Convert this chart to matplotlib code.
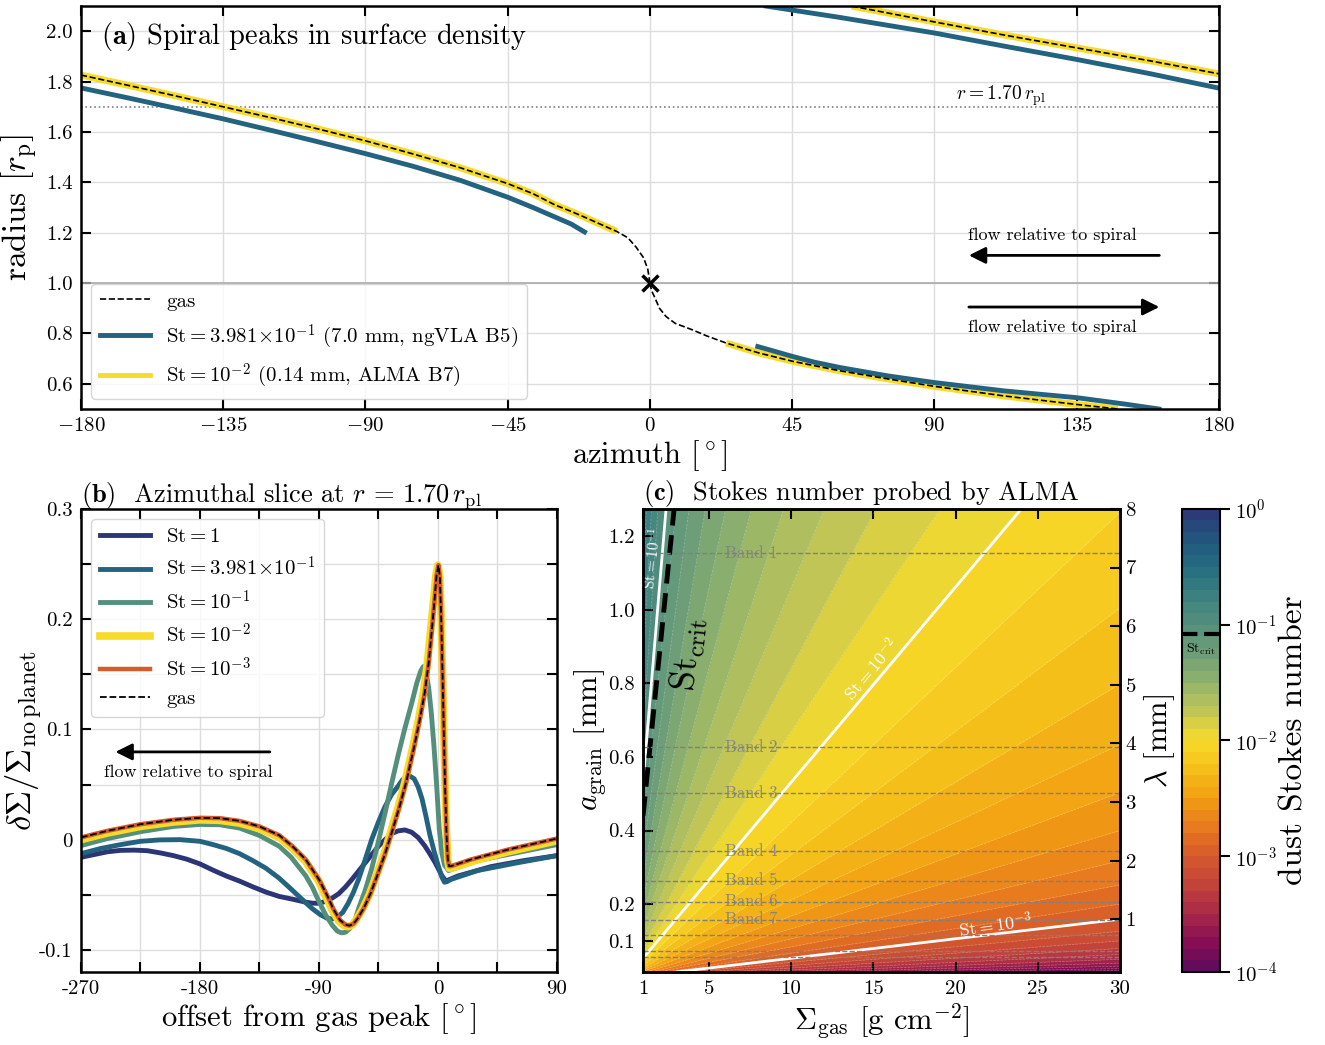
import numpy as np
import matplotlib
matplotlib.use('Agg')
import matplotlib.pyplot as plt
from matplotlib.colors import LinearSegmentedColormap, LogNorm

plt.rcParams['font.family'] = 'serif'
plt.rcParams['font.serif'] = ['cmr10', 'DejaVu Serif']
plt.rcParams['mathtext.fontset'] = 'cm'
plt.rcParams['axes.formatter.use_mathtext'] = True
plt.rcParams['axes.linewidth'] = 1.8

# ---- panel (a): spiral peak positions (azimuth [deg], radius [r_p]) ----
gas_out_phi = [-180, -165, -150, -135, -120, -105, -90, -75, -60, -45, -37, -30, -25, -20, -15, -10.5, -7, -4.4, -2, -0.7, 0]
gas_out_r = [1.826, 1.785, 1.743, 1.70, 1.657, 1.612, 1.565, 1.513, 1.458, 1.395, 1.355, 1.31, 1.285, 1.258, 1.23, 1.205, 1.18, 1.143, 1.10, 1.055, 1.0]
gas_in_phi = [0, 0.5, 1.4, 3, 5.1, 8, 13.5, 18, 24.1, 34.6, 45.3, 60, 75, 90, 112, 135, 148]
gas_in_r = [1.0, 0.97, 0.946, 0.90, 0.867, 0.84, 0.814, 0.79, 0.762, 0.722, 0.689, 0.652, 0.62, 0.59, 0.552, 0.518, 0.5]
gas_wrap_phi = [63.8, 90, 112, 135, 158, 180]
gas_wrap_r = [2.1, 2.037, 1.985, 1.934, 1.883, 1.831]

st2_out_phi = [-180, -165, -150, -135, -120, -105, -90, -75, -60, -45, -37, -30, -25, -20, -15, -10.5]
st2_out_r = [1.826, 1.785, 1.743, 1.70, 1.657, 1.612, 1.565, 1.513, 1.458, 1.395, 1.355, 1.31, 1.285, 1.258, 1.23, 1.205]
st2_in_phi = [24.1, 34.6, 45.3, 60, 75, 90, 112, 135, 148]
st2_in_r = [0.762, 0.722, 0.689, 0.652, 0.62, 0.59, 0.552, 0.518, 0.5]
st2_wrap_phi = [63.8, 90, 112, 135, 158, 180]
st2_wrap_r = [2.1, 2.037, 1.985, 1.934, 1.883, 1.831]

st04_out_phi = [-180, -165, -150, -135, -120, -105, -90, -75, -60, -45, -37, -30, -25, -20.7]
st04_out_r = [1.775, 1.735, 1.694, 1.652, 1.607, 1.561, 1.514, 1.464, 1.408, 1.341, 1.30, 1.262, 1.235, 1.203]
st04_in_phi = [34.1, 40, 45, 52, 60, 75, 90, 112, 135, 150, 161]
st04_in_r = [0.748, 0.727, 0.709, 0.686, 0.665, 0.632, 0.605, 0.572, 0.545, 0.52, 0.5]
st04_wrap_phi = [36.7, 60, 90, 112, 135, 158, 180]
st04_wrap_r = [2.1, 2.055, 1.993, 1.941, 1.888, 1.832, 1.774]

# ---- panel (b): azimuthal slices at r = 1.70 ----
b_gas_x = [-270, -250, -225, -200, -180, -165, -150, -135, -120, -110, -100, -90, -84, -79, -74, -70, -67, -64, -61, -56, -51, -46, -40, -35, -29, -24, -18, -14, -10, -7, -4.6, -2.5, -1, 0.4, 1.5, 2.5, 3.5, 4.5, 5.5, 6.5, 7.5, 8.5, 10, 25, 53, 90]
b_gas_y = [0.002, 0.008, 0.014, 0.018, 0.0198, 0.0195, 0.017, 0.012, 0.004, -0.006, -0.018, -0.036, -0.05, -0.063, -0.073, -0.077, -0.078, -0.0765, -0.072, -0.062, -0.049, -0.033, -0.013, 0.006, 0.030, 0.052, 0.084, 0.107, 0.133, 0.160, 0.19, 0.218, 0.24, 0.249, 0.238, 0.20, 0.15, 0.095, 0.045, 0.005, -0.018, -0.024, -0.024, -0.018, -0.009, 0.001]
b_st3_x = b_gas_x
b_st3_y = b_gas_y
b_st2_x = [-270, -250, -225, -200, -180, -165, -150, -135, -120, -110, -100, -90, -85, -80, -75, -71, -68, -65, -62, -57, -52, -47, -41, -36, -30, -25, -19, -15, -11, -8, -5.5, -3.2, -1.5, 0, 1.5, 2.5, 3.5, 4.5, 5.5, 6.5, 7.5, 8.5, 10, 25, 53, 90]
b_st2_y = [0.0, 0.006, 0.012, 0.016, 0.018, 0.0175, 0.015, 0.010, 0.002, -0.008, -0.020, -0.038, -0.051, -0.064, -0.074, -0.078, -0.079, -0.0775, -0.073, -0.063, -0.050, -0.034, -0.014, 0.006, 0.030, 0.052, 0.084, 0.107, 0.133, 0.160, 0.19, 0.218, 0.24, 0.249, 0.238, 0.20, 0.15, 0.095, 0.045, 0.005, -0.019, -0.026, -0.026, -0.020, -0.011, -0.001]
b_st1_x = [-270, -250, -225, -200, -180, -165, -150, -135, -120, -111, -100, -95, -90, -85, -80, -76, -73, -70, -67, -63, -60, -55, -50, -45, -40, -35, -30, -25, -20, -16, -13, -11, -9, -7, -5, -3, -1, 1, 3, 5, 8, 30, 90]
b_st1_y = [-0.0054, 0.001, 0.0072, 0.012, 0.0138, 0.0135, 0.0105, 0.0038, -0.006, -0.016, -0.0327, -0.043, -0.056, -0.068, -0.0775, -0.083, -0.0845, -0.084, -0.081, -0.074, -0.0625, -0.046, -0.026, -0.0015, 0.024, 0.051, 0.077, 0.101, 0.123, 0.142, 0.153, 0.157, 0.152, 0.138, 0.115, 0.085, 0.05, 0.01, -0.012, -0.023, -0.028, -0.019, -0.0045]
b_st04_x = [-270, -255, -240, -225, -210, -195, -180, -170, -160, -150, -140, -130, -120, -110, -102, -95, -89, -84, -80, -76, -72, -68, -64, -60, -55, -50, -45, -40, -35, -30, -27, -24, -21, -18, -15, -12, -9, -6, -3, 0, 3, 5, 7, 10, 30, 60, 90]
b_st04_y = [-0.0127, -0.008, -0.0045, -0.0015, -0.0002, 0.0, -0.0015, -0.0045, -0.008, -0.0127, -0.019, -0.026, -0.035, -0.046, -0.055, -0.0626, -0.068, -0.0712, -0.072, -0.070, -0.066, -0.058, -0.048, -0.036, -0.018, 0.0005, 0.016, 0.030, 0.041, 0.0487, 0.054, 0.057, 0.0575, 0.0553, 0.048, 0.037, 0.021, 0.004, -0.010, -0.0227, -0.034, -0.0386, -0.038, -0.036, -0.028, -0.021, -0.0145]
b_st10_x = [-270, -260, -250, -240, -230, -220, -210, -200, -190, -180, -170, -160, -150, -140, -130, -120, -110, -100, -95, -90, -85, -80, -75, -70, -65, -60, -55, -50, -45, -40, -35, -30, -25, -20, -15, -10, -6, -2, 1, 3, 6, 9, 15, 40, 65, 90]
b_st10_y = [-0.016, -0.0135, -0.011, -0.0097, -0.0095, -0.010, -0.012, -0.0145, -0.0177, -0.022, -0.0277, -0.033, -0.0376, -0.0428, -0.0476, -0.0515, -0.054, -0.0567, -0.0576, -0.0577, -0.056, -0.053, -0.049, -0.043, -0.036, -0.0285, -0.021, -0.0135, -0.006, 0.0, 0.0055, 0.008, 0.0088, 0.0068, 0.002, -0.0055, -0.013, -0.021, -0.028, -0.0327, -0.0376, -0.036, -0.033, -0.0245, -0.019, -0.0145]

# ---- panel (c): Stokes number map ----
rho_s = 1.2          # g cm^-3
st_crit = 0.083
sigma_range = [1, 30]
lam_range = [0.1, 8]
band_names = ['Band 1', 'Band 2', 'Band 3', 'Band 4', 'Band 5', 'Band 6', 'Band 7', 'Band 8', 'Band 9', 'Band 10']
band_lam = [7.25, 3.94, 3.15, 2.16, 1.66, 1.30, 0.99, 0.73, 0.46, 0.36]

# colour map (log St from -4 to 0)
cm_pos = [0, 0.0625, 0.125, 0.1875, 0.25, 0.3125, 0.375, 0.4375, 0.5, 0.5625, 0.625, 0.6875, 0.75, 0.8125, 0.875, 0.9375, 1.0]
cm_col = ['#5c0a5c', '#870d55', '#a92a48', '#c2433a', '#d65a2c', '#e8791f', '#f29e12', '#f5be1a', '#f8dc2a',
          '#c3c655', '#92b36b', '#6f9f77', '#55907c', '#3d817f', '#246d80', '#21567f', '#2c3576']
cmap = LinearSegmentedColormap.from_list('stokes', list(zip(cm_pos, cm_col)))
norm = LogNorm(1e-4, 1)

fig = plt.figure(figsize=(13.25, 10.45), dpi=100)
ax_a = fig.add_axes([0.0611, 0.6086, 0.8589, 0.3856])
ax_b = fig.add_axes([0.0611, 0.0699, 0.3592, 0.4431])
ax_c = fig.add_axes([0.4853, 0.0699, 0.3600, 0.4431])
cax = fig.add_axes([0.8921, 0.0699, 0.0287, 0.4431])

def style(ax):
    ax.tick_params(direction='in', length=7, width=1.5, top=True, right=True, labelsize=15, pad=6)

# ---------------- (a) ----------------
c_yel = cmap(norm(1e-2))
c_blu = cmap(norm(0.3981))
ax_a.grid(color='#dddddd', lw=1)
ax_a.axhline(1.70, color='gray', ls=':', lw=1.2)
ax_a.axhline(1.0, color='#aaaaaa', lw=1.2)
for px, pr in [(st2_out_phi, st2_out_r), (st2_in_phi, st2_in_r), (st2_wrap_phi, st2_wrap_r)]:
    ax_a.plot(px, pr, color=c_yel, lw=5, solid_capstyle='butt')
for px, pr in [(st04_out_phi, st04_out_r), (st04_in_phi, st04_in_r), (st04_wrap_phi, st04_wrap_r)]:
    ax_a.plot(px, pr, color=c_blu, lw=3.5)
for px, pr in [(gas_out_phi, gas_out_r), (gas_in_phi, gas_in_r), (gas_wrap_phi, gas_wrap_r)]:
    ax_a.plot(px, pr, color='k', ls='--', lw=1.2)
ax_a.plot([0], [1.0], 'x', color='k', ms=12, mew=2.5)
ax_a.plot([], [], color='k', ls='--', lw=1.2, label='gas')
ax_a.plot([], [], color=c_blu, lw=3.5, label=r'$\mathrm{St} = 3.981\!\times\!10^{-1}$ (7.0 mm, ngVLA B5)')
ax_a.plot([], [], color=c_yel, lw=3.5, label=r'$\mathrm{St} = 10^{-2}$ (0.14 mm, ALMA B7)')
ax_a.legend(loc='lower left', fontsize=15, handlelength=2.4, labelspacing=0.55, borderaxespad=0.5)
ax_a.text(111, 1.745, r'$r = 1.70\,r_\mathrm{pl}$', ha='center', va='center', fontsize=14)
ax_a.annotate('', xy=(100, 1.11), xytext=(162, 1.11),
              arrowprops=dict(arrowstyle='-|>', color='k', lw=2, mutation_scale=25))
ax_a.annotate('', xy=(162, 0.905), xytext=(100, 0.905),
              arrowprops=dict(arrowstyle='-|>', color='k', lw=2, mutation_scale=25))
ax_a.text(100.5, 1.19, 'flow relative to spiral', fontsize=13, va='center')
ax_a.text(100.5, 0.826, 'flow relative to spiral', fontsize=13, va='center')
ax_a.text(0.018, 0.925, r'$\mathbf{(a)}$ Spiral peaks in surface density', transform=ax_a.transAxes,
          fontsize=20.5, va='center')
ax_a.set_xlim(-180, 180)
ax_a.set_ylim(0.5, 2.1)
ax_a.set_xticks([-180, -135, -90, -45, 0, 45, 90, 135, 180])
ax_a.set_xticklabels([r'$-180$', r'$-135$', r'$-90$', r'$-45$', r'$0$', r'$45$', r'$90$', r'$135$', r'$180$'])
ax_a.set_yticks([0.6, 0.8, 1.0, 1.2, 1.4, 1.6, 1.8, 2.0])
ax_a.set_yticklabels(['0.6', '0.8', '1.0', '1.2', '1.4', '1.6', '1.8', '2.0'])
ax_a.set_xlabel(r'azimuth [$^\circ$]', fontsize=22, labelpad=2)
ax_a.set_ylabel(r'radius [$r_\mathrm{p}$]', fontsize=24)
style(ax_a)

# ---------------- (b) ----------------
ax_b.grid(color='#dddddd', lw=1)
ax_b.plot(b_st10_x, b_st10_y, color=cmap(norm(1.0)), lw=3.5, label=r'$\mathrm{St} = 1$')
ax_b.plot(b_st04_x, b_st04_y, color=c_blu, lw=3.5, label=r'$\mathrm{St} = 3.981\!\times\!10^{-1}$')
ax_b.plot(b_st1_x, b_st1_y, color=cmap(norm(0.1)), lw=3.5, label=r'$\mathrm{St} = 10^{-1}$')
ax_b.plot(b_st2_x, b_st2_y, color=c_yel, lw=5.5, label=r'$\mathrm{St} = 10^{-2}$')
ax_b.plot(b_st3_x, b_st3_y, color=cmap(norm(1e-3)), lw=3.2, label=r'$\mathrm{St} = 10^{-3}$')
ax_b.plot(b_gas_x, b_gas_y, color='k', ls='--', lw=1.3, label='gas')
ax_b.legend(loc='upper left', fontsize=15, handlelength=2.4, labelspacing=0.45, borderaxespad=0.5)
ax_b.annotate('', xy=(-246, 0.0796), xytext=(-125, 0.0796),
              arrowprops=dict(arrowstyle='-|>', color='k', lw=2, mutation_scale=25))
ax_b.text(-189, 0.061, 'flow relative to spiral', fontsize=13, ha='center', va='center')
ax_b.set_xlim(-270, 90)
ax_b.set_ylim(-0.12, 0.3)
ax_b.set_xticks(np.arange(-270, 91, 45))
ax_b.set_xticklabels(['-270', '', '-180', '', '-90', '', '0', '', '90'])
ax_b.set_yticks([-0.1, -0.05, 0, 0.05, 0.1, 0.15, 0.2, 0.25, 0.3])
ax_b.set_yticklabels(['-0.1', '', '0', '', '0.1', '', '0.2', '', '0.3'])
ax_b.set_xlabel(r'offset from gas peak [$^\circ$]', fontsize=22, labelpad=2)
ax_b.set_ylabel(r'$\delta\Sigma/\Sigma_\mathrm{no\,planet}$', fontsize=25)
ax_b.yaxis.set_label_coords(-0.075, 0.5)
ax_b.set_title(r'$\mathbf{(b)}$  Azimuthal slice at $r\,=\,1.70\,r_\mathrm{pl}$', loc='left', fontsize=19, pad=5)
style(ax_b)

# ---------------- (c) ----------------
sig = np.linspace(sigma_range[0], sigma_range[1], 400)
agr = np.linspace(lam_range[0], lam_range[1], 400) / (2 * np.pi)
S, A = np.meshgrid(sig, agr)
St = 0.5 * np.pi * rho_s * (A / 10.0) / S
St_fill = np.clip(St, 1.02e-4, 0.99)
levels = np.logspace(-4, 0, 41)
cf = ax_c.contourf(S, A, St_fill, levels=levels, cmap=cmap, norm=norm)
ax_c.contour(S, A, St, levels=levels, colors='white', linewidths=0.5, alpha=0.3, linestyles='--')
ax_c.contour(S, A, St, levels=[1e-3, 1e-2, 1e-1], colors='white', linewidths=2)
ax_c.contour(S, A, St, levels=[st_crit], colors='k', linewidths=3.5, linestyles=[(0, (4, 2))])
for name, lam in zip(band_names, band_lam):
    ax_c.axhline(lam / (2 * np.pi), color='gray', ls='--', lw=1)
for name, lam in zip(band_names[:7], band_lam[:7]):
    ax_c.text(6, lam / (2 * np.pi), name, color='gray', fontsize=12, va='center', alpha=0.9)
ax_c.text(1.6, 1.14, r'$\mathrm{St} = 10^{-1}$', color='white', fontsize=11, rotation=84, ha='center', va='center')
ax_c.text(14.86, 0.837, r'$\mathrm{St} = 10^{-2}$', color='white', fontsize=13, rotation=50, ha='center', va='center')
ax_c.text(22.4, 0.144, r'$\mathrm{St} = 10^{-3}$', color='white', fontsize=13, rotation=8, ha='center', va='center')
ax_c.text(3.8, 0.88, r'$\mathrm{St}_\mathrm{crit}$', color='k', fontsize=26, rotation=84, ha='center', va='center')
ax_c.set_xlim(sigma_range)
ax_c.set_ylim(lam_range[0] / (2 * np.pi), lam_range[1] / (2 * np.pi))
ax_c.set_xticks([1, 5, 10, 15, 20, 25, 30])
ax_c.set_xticklabels(['1', '5', '10', '15', '20', '25', '30'])
ax_c.set_yticks([0.1, 0.2, 0.4, 0.6, 0.8, 1.0, 1.2])
ax_c.set_yticklabels(['0.1', '0.2', '0.4', '0.6', '0.8', '1.0', '1.2'])
ax_c.set_xlabel(r'$\Sigma_\mathrm{gas}$ [g cm$^{-2}$]', fontsize=22, labelpad=2)
ax_c.set_ylabel(r'$a_\mathrm{grain}$ [mm]', fontsize=22, labelpad=0)
ax_c.set_title(r'$\mathbf{(c)}$  Stokes number probed by ALMA', loc='left', fontsize=19, pad=5)
ax_c.tick_params(direction='in', length=7, width=1.5, top=True, right=False, labelsize=15, pad=6)
ax_l = ax_c.twinx()
ax_l.set_ylim(lam_range)
ax_l.set_yticks([1, 2, 3, 4, 5, 6, 7, 8])
ax_l.set_yticklabels(['1', '2', '3', '4', '5', '6', '7', '8'])
ax_l.set_ylabel(r'$\lambda$ [mm]', fontsize=22, labelpad=4)
ax_l.tick_params(direction='in', length=7, width=1.5, labelsize=15, pad=4)

cb = fig.colorbar(cf, cax=cax, ticks=[1e-4, 1e-3, 1e-2, 1e-1, 1])
cb.outline.set_linewidth(1.5)
cax.tick_params(labelsize=15, length=7, width=1.5)
cax.tick_params(which='minor', length=4, width=1)
cb.set_label('dust Stokes number', fontsize=24, labelpad=2)
cax.axhline(st_crit, color='k', ls='--', lw=3)
cax.text(0.5, st_crit * 0.86, r'$\mathrm{St}_\mathrm{crit}$', transform=cax.get_yaxis_transform(),
         ha='center', va='top', fontsize=10)

fig.savefig('out.png', dpi=100)
